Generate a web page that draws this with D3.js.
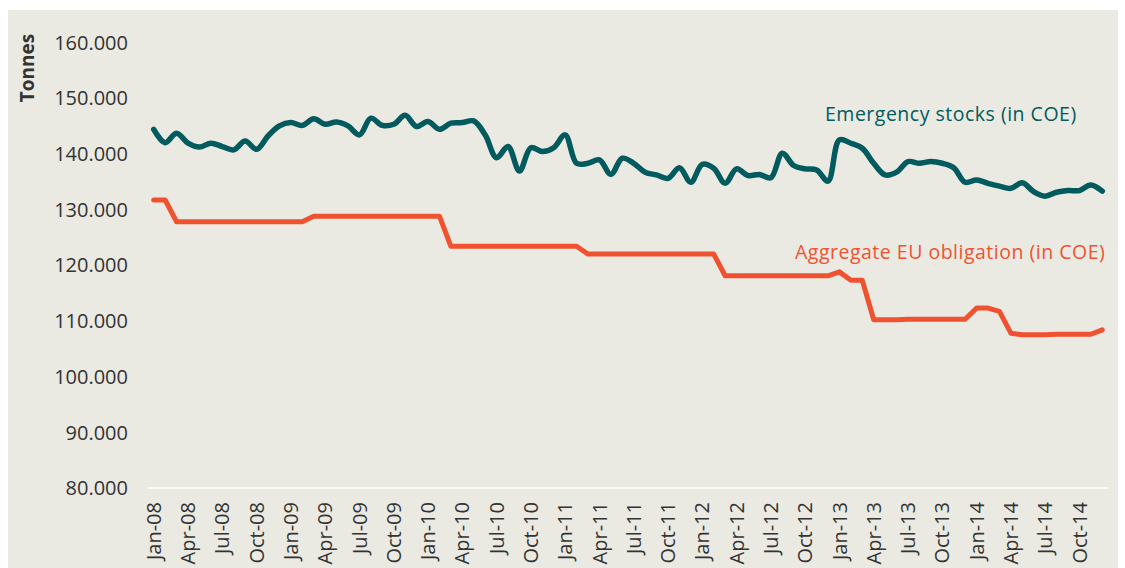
<!DOCTYPE html>
<html>
<head>
<meta charset="utf-8">
<script src="https://cdn.jsdelivr.net/npm/d3@7"></script>
<style>
  body { margin: 0; background: #fff; }
  text { font-family: "Open Sans", sans-serif; }
</style>
</head>
<body>
<div id="drawing"></div>
<script>
"use strict"

/**** Configuration ****/
let svgWidth = 1125
let svgHeight = 568

let plotLeft = 148
let plotRight = 1108
let plotTop = 42.4
let plotBottom = 488

/**** DATA (thousand tonnes) ****/
let monthNames = ["Jan","Feb","Mar","Apr","May","Jun","Jul","Aug","Sep","Oct","Nov","Dec"]
let years = ["08","09","10","11","12","13","14"]

let months = []
years.forEach(function(y){
    monthNames.forEach(function(m){
        months.push(m + "-" + y)
    })
})

let emergencyStocks = [
144.4,142.0,143.7,141.9,141.2,141.9,141.3,140.7,142.3,140.8,143.2,145.0,
145.6,145.1,146.3,145.3,145.7,145.0,143.4,146.4,145.1,145.3,146.9,144.9,
145.8,144.4,145.5,145.6,145.9,143.4,139.3,141.3,136.9,141.1,140.4,141.1,
143.4,138.3,138.3,138.9,136.3,139.2,138.3,136.7,136.2,135.6,137.5,134.9,
138.1,137.4,134.7,137.3,136.1,136.3,135.7,140.1,137.9,137.3,137.1,135.1,
142.5,141.9,141.0,138.3,136.2,136.7,138.6,138.3,138.6,138.3,137.5,134.9,
135.3,134.7,134.2,133.8,134.8,133.2,132.4,133.1,133.4,133.4,134.4,133.3
]

let euObligation = [
131.7,131.7,127.8,127.8,127.8,127.8,127.8,127.8,127.8,127.8,127.8,127.8,
127.8,127.8,128.8,128.8,128.8,128.8,128.8,128.8,128.8,128.8,128.8,128.8,
128.8,128.8,123.4,123.4,123.4,123.4,123.4,123.4,123.4,123.4,123.4,123.4,
123.4,123.4,122.0,122.0,122.0,122.0,122.0,122.0,122.0,122.0,122.0,122.0,
122.0,122.0,118.1,118.1,118.1,118.1,118.1,118.1,118.1,118.1,118.1,118.1,
118.8,117.3,117.3,110.2,110.2,110.2,110.3,110.3,110.3,110.3,110.3,110.3,
112.3,112.3,111.7,107.8,107.5,107.5,107.5,107.6,107.6,107.6,107.6,108.4
]

let yTicks = [80,90,100,110,120,130,140,150,160]

/**** CANVAS ****/
let svg = d3.select("#drawing")
.append("svg")
.attr("width", svgWidth)
.attr("height", svgHeight)

/* panel background */
svg.append("rect")
.attr("x", 8)
.attr("y", 10)
.attr("width", 1110)
.attr("height", 560)
.attr("fill", "#ebeae2")

/**** SCALES ****/
let xScale = d3.scalePoint()
.domain(months)
.range([plotLeft, plotRight])
.padding(0.5)

let yScale = d3.scaleLinear()
.domain([80,160])
.range([plotBottom, plotTop])

let euro = d3.formatLocale({decimal: ",", thousands: ".", grouping: [3], currency: ["",""]})
let fmt = euro.format(",.0f")

/**** AXES ****/
/* baseline */
svg.append("line")
.attr("x1", plotLeft)
.attr("x2", plotRight)
.attr("y1", yScale(80))
.attr("y2", yScale(80))
.attr("stroke", "#ffffff")
.attr("stroke-width", 1.5)

/* y tick labels */
svg.selectAll("text.ytick")
.data(yTicks)
.join("text")
.attr("class", "ytick")
.attr("x", 128)
.attr("y", d => yScale(d))
.attr("dy", "0.36em")
.style("text-anchor", "end")
.style("font-size", "20px")
.style("fill", "#333333")
.text(d => fmt(d * 1000))

/* x tick labels every 3 months */
let shownMonths = months.filter((m, i) => i % 3 === 0)

svg.selectAll("text.xtick")
.data(shownMonths)
.join("text")
.attr("class", "xtick")
.attr("transform", d => `translate(${xScale(d)},502) rotate(-90)`)
.attr("dy", "0.36em")
.style("text-anchor", "end")
.style("font-size", "20px")
.style("fill", "#333333")
.text(d => d)

/* y axis title */
svg.append("text")
.attr("transform", "translate(27,68) rotate(-90)")
.attr("dy", "0.36em")
.style("text-anchor", "middle")
.style("font-size", "19px")
.style("font-weight", "bold")
.style("fill", "#333333")
.text("Tonnes")

/**** LINES ****/
let obligationLine = d3.line()
.x((d, i) => xScale(months[i]))
.y(d => yScale(d))

let stocksLine = d3.line()
.x((d, i) => xScale(months[i]))
.y(d => yScale(d))
.curve(d3.curveCatmullRom.alpha(0.5))

svg.append("path")
.datum(euObligation)
.attr("d", obligationLine)
.attr("fill", "none")
.attr("stroke", "#f0522f")
.attr("stroke-width", 5)
.attr("stroke-linejoin", "round")
.attr("stroke-linecap", "round")

svg.append("path")
.datum(emergencyStocks)
.attr("d", stocksLine)
.attr("fill", "none")
.attr("stroke", "#005a5e")
.attr("stroke-width", 5.5)
.attr("stroke-linejoin", "round")
.attr("stroke-linecap", "round")

/**** SERIES LABELS ****/
svg.append("text")
.attr("x", 825)
.attr("y", 121)
.style("font-size", "19.5px")
.style("letter-spacing", "0.5px")
.style("fill", "#005a5e")
.text("Emergency stocks (in COE)")

svg.append("text")
.attr("x", 795)
.attr("y", 259)
.style("font-size", "19.5px")
.style("letter-spacing", "0.5px")
.style("fill", "#f0522f")
.text("Aggregate EU obligation (in COE)")
</script>
</body>
</html>
